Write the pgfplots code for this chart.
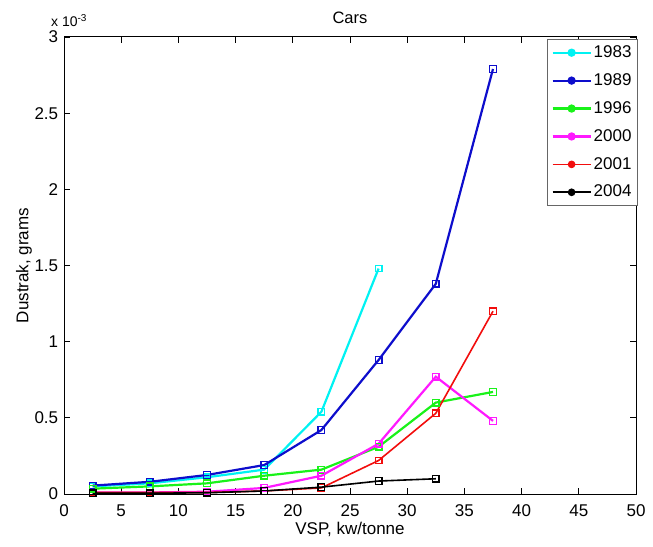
\documentclass[border=0pt]{standalone}
\usepackage{pgfplots}
\pgfplotsset{compat=1.18}
\usepackage{fontspec}
\setmainfont{Liberation Sans}
\begin{document}
\fontsize{17}{20}\selectfont
\begin{tikzpicture}
\begin{axis}[
  name=ax,
  scale only axis,
  width=572pt, height=457pt,
  xmin=0, xmax=50, ymin=0, ymax=3,
  xtick={0,5,...,50},
  ytick={0,0.5,1,1.5,2,2.5,3},
  yticklabels={0,0.5,1,1.5,2,2.5,3},
  tick align=inside,
  major tick length=6pt,
  axis line style={line width=1pt},
  tick style={line width=0.8pt, black},
  /pgf/number format/assume math mode=true,
  tick label style={font=\fontsize{17}{20}\selectfont},
  xticklabel style={yshift=-5pt},
  xlabel={VSP, kw/tonne},
  ylabel={Dustrak, grams},
  title={Cars},
  title style={font=\fontsize{16.5}{19}\selectfont, yshift=1pt},
  label style={font=\fontsize{17}{20}\selectfont},
  xlabel style={yshift=6pt},
  ylabel style={yshift=-9pt},
  legend cell align=left,
  legend style={at={(1.003,0.995)}, anchor=north east, draw=black!60, row sep=9.5pt, font=\fontsize{17}{20}\selectfont, inner sep=4pt},
  legend image code/.code={\draw[#1] (0pt,0pt) -- (38pt,0pt); \fill[#1] (19pt,0pt) circle (3pt);},
  every axis plot/.append style={mark=square, mark size=3.3pt, line width=2.2pt, mark options={line width=1.3pt}},
]
\addplot[color={rgb,1:red,0;green,0.95;blue,0.95}] coordinates {(2.5,0.05) (7.5,0.07) (12.5,0.11) (17.5,0.16) (22.5,0.54) (27.5,1.48)};
\addlegendentry{1983}
\addplot[color={rgb,1:red,0.05;green,0.05;blue,0.8}] coordinates {(2.5,0.055) (7.5,0.08) (12.5,0.125) (17.5,0.19) (22.5,0.42) (27.5,0.88) (32.5,1.38) (37.5,2.79)};
\addlegendentry{1989}
\addplot[color={rgb,1:red,0.1;green,0.95;blue,0.1}] coordinates {(2.5,0.035) (7.5,0.05) (12.5,0.07) (17.5,0.12) (22.5,0.16) (27.5,0.31) (32.5,0.60) (37.5,0.67)};
\addlegendentry{1996}
\addplot[color={rgb,1:red,1;green,0.1;blue,1}] coordinates {(2.5,0.01) (7.5,0.01) (12.5,0.015) (17.5,0.04) (22.5,0.12) (27.5,0.33) (32.5,0.77) (37.5,0.48)};
\addlegendentry{2000}
\addplot[color={rgb,1:red,0.95;green,0.05;blue,0.05}, line width=1.6pt] coordinates {(2.5,0.01) (7.5,0.01) (12.5,0.01) (17.5,0.02) (22.5,0.04) (27.5,0.22) (32.5,0.53) (37.5,1.20)};
\addlegendentry{2001}
\addplot[color=black, line width=1.6pt] coordinates {(2.5,0.005) (7.5,0.005) (12.5,0.008) (17.5,0.02) (22.5,0.045) (27.5,0.085) (32.5,0.10)};
\addlegendentry{2004}
\end{axis}
\node[anchor=south west, inner sep=1pt, font=\fontsize{14}{16}\selectfont] at ([xshift=-14pt,yshift=9pt]ax.north west) {x 10$^{\mbox{\fontsize{10}{11}\selectfont -3}}$};
\path ([xshift=-64pt,yshift=-52pt]ax.south west) ([xshift=17pt,yshift=37pt]ax.north east);
\end{tikzpicture}
\end{document}
